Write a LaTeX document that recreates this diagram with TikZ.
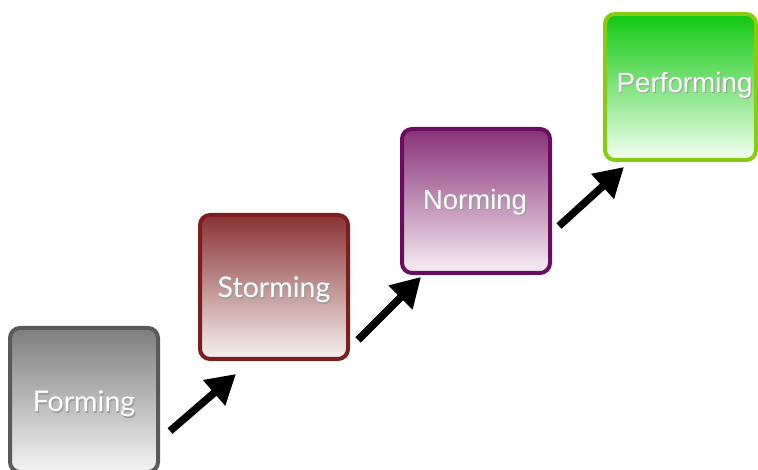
\documentclass[tikz,border=0pt]{standalone}
\usepackage{fontspec}
\setmainfont{Liberation Sans}
\newfontfamily\gillfont{Lato}
\usetikzlibrary{arrows.meta}
\definecolor{fbord}{HTML}{5A5A5A}
\definecolor{ftop}{HTML}{7E7E7E}
\definecolor{fbot}{HTML}{F4F4F4}
\definecolor{sbord}{HTML}{7A1E1E}
\definecolor{stop}{HTML}{883232}
\definecolor{sbot}{HTML}{F8F2F2}
\definecolor{nbord}{HTML}{6C0C5E}
\definecolor{ntop}{HTML}{883078}
\definecolor{nbot}{HTML}{F6EEF4}
\definecolor{pbord}{HTML}{88CC11}
\definecolor{ptop}{HTML}{10C810}
\definecolor{pbot}{HTML}{F4FFF2}
\tikzset{
  stagebox/.style={rectangle, rounded corners=10pt, line width=4pt,
    minimum width=148pt, minimum height=144pt, shading angle=30, inner sep=0pt},
  stagetext/.style={text=white, font=\fontsize{28.5}{31}\selectfont},
  shadowtext/.style={text=black!38, font=\fontsize{28.5}{31}\selectfont},
  stagearrow/.style={line width=7.5pt, black,
    -{Triangle[length=29pt,width=32pt]}}
}
\begin{document}
\begin{tikzpicture}[x=1pt,y=-1pt]
\useasboundingbox (0,0) rectangle (758,470);
\clip (0,0) rectangle (758,470);
\fill[white] (0,0) rectangle (758,470);
% boxes
\node[stagebox, draw=fbord, top color=ftop, bottom color=fbot] (forming) at (84,400) {};
\node[stagebox, draw=sbord, top color=stop, bottom color=sbot] (storming) at (274,287) {};
\node[stagebox, draw=nbord, top color=ntop, bottom color=nbot] (norming) at (476,201) {};
\node[stagebox, draw=pbord, top color=ptop, bottom color=pbot, minimum width=151pt, minimum height=146pt] (performing) at (680.5,87) {};
% text shadows
\node[shadowtext] (formingS) at (85.2,405.4) {\gillfont Forming};
\node[shadowtext] (stormingS) at (275.2,291.4) {\gillfont Storming};
\node[shadowtext] (normingS) at (476.2,203.2) {\fontsize{27.5}{30}\selectfont Norming};
\node[shadowtext] (performingS) at (685.7,86.2) {\fontsize{27.8}{30}\selectfont Performing};
% texts
\node[stagetext] (formingT) at (84,404) {\gillfont Forming};
\node[stagetext] (stormingT) at (274,290) {\gillfont Storming};
\node[stagetext] (normingT) at (475,202) {\fontsize{27.5}{30}\selectfont Norming};
\node[stagetext] (performingT) at (684.5,85) {\fontsize{27.8}{30}\selectfont Performing};
% arrow end points
\coordinate (a1s) at (170,431);
\coordinate (a1e) at (236,374);
\coordinate (a2s) at (358,340);
\coordinate (a2e) at (421,277);
\coordinate (a3s) at (559,226);
\coordinate (a3e) at (624,167);
\draw[stagearrow] (a1s) -- (a1e);
\draw[stagearrow] (a2s) -- (a2e);
\draw[stagearrow] (a3s) -- (a3e);
\end{tikzpicture}
\end{document}
